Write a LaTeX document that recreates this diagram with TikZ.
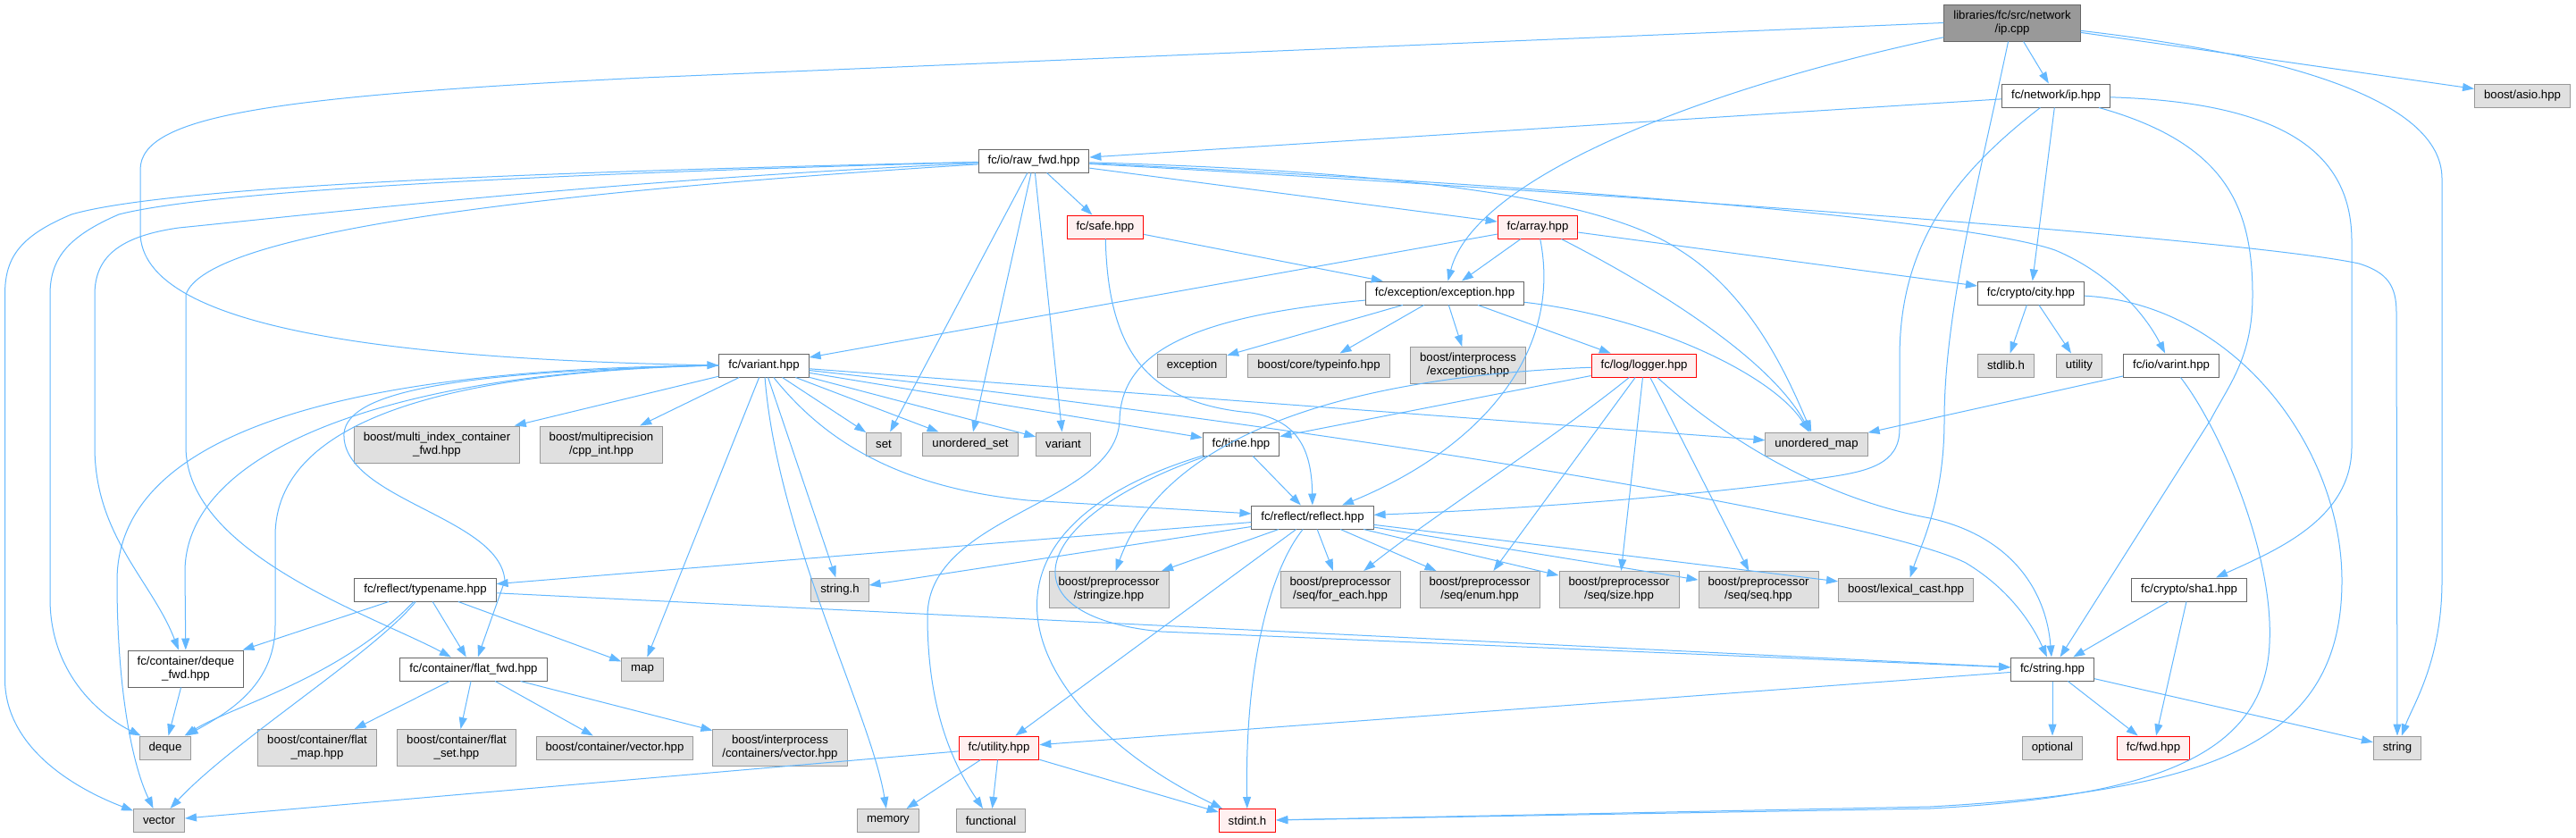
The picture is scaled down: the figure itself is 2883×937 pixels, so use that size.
\documentclass[tikz,border=0pt]{standalone}
\usepackage{fontspec}
\setmainfont{Liberation Sans}
\usepackage{xcolor}
\usepackage{tikz}
\usetikzlibrary{arrows.meta}

\definecolor{edgeblue}{HTML}{63B8FF}
\definecolor{boxgray}{HTML}{666666}
\definecolor{extdraw}{HTML}{999999}
\definecolor{extfill}{HTML}{E0E0E0}
\definecolor{truncfill}{HTML}{FFF0F0}
\definecolor{rootfill}{HTML}{999999}

\tikzset{
  hdr/.style={draw=boxgray, fill=white, line width=1pt, font=\fontsize{13.2}{15}\selectfont,
    inner xsep=10.5pt, inner ysep=0pt, minimum height=26pt, align=center},
  hdrtrunc/.style={hdr, draw=red, fill=truncfill},
  syshdr/.style={hdr, draw=extdraw, fill=extfill},
  srcroot/.style={hdr, fill=rootfill},
  tall/.style={minimum height=41pt},
  inc/.style={edgeblue, line width=1pt, -{Triangle[length=13pt,width=9pt]}},
}

\begin{document}
\begin{tikzpicture}[x=1pt, y=-1pt]
        \fill[white] (0,0) rectangle (2883,937);

        % Row 0 and 1
        \node[srcroot, tall] (root) at (2252,25.5) {libraries/fc/src/network\\/ip.cpp};
        \node[hdr] (netip) at (2301,107) {fc/network/ip.hpp};
        \node[syshdr] (asio) at (2823,107) {boost/asio.hpp};

        % Rows 2 to 4
        \node[hdr] (rawfwd) at (1157,180) {fc/io/raw\_fwd.hpp};
        \node[hdrtrunc] (safe) at (1237,254) {fc/safe.hpp};
        \node[hdrtrunc] (array) at (1721,254) {fc/array.hpp};
        \node[hdr] (exc) at (1617,328) {fc/exception/exception.hpp};
        \node[hdr] (city) at (2273,328) {fc/crypto/city.hpp};

        % Row 5
        \node[hdr] (variant) at (855,409) {fc/variant.hpp};
        \node[syshdr] (stdexc) at (1334,409) {exception};
        \node[syshdr] (typeinfo) at (1476,409) {boost/core/typeinfo.hpp};
        \node[syshdr, tall] (ipcexc) at (1643,409) {boost/interprocess\\/exceptions.hpp};
        \node[hdrtrunc] (logger) at (1840,409) {fc/log/logger.hpp};
        \node[syshdr] (stdlib) at (2245,409) {stdlib.h};
        \node[syshdr] (utilstd) at (2327,409) {utility};
        \node[hdr] (varint) at (2430,409) {fc/io/varint.hpp};

        % Row 6
        \node[syshdr, tall] (multiidx) at (489,497.5) {boost/multi\_index\_container\\\_fwd.hpp};
        \node[syshdr, tall] (multiprec) at (673,497.5) {boost/multiprecision\\/cpp\_int.hpp};
        \node[syshdr] (set) at (989,497) {set};
        \node[syshdr] (uset) at (1086,497) {unordered\_set};
        \node[syshdr] (stdvar) at (1190,497) {variant};
        \node[hdr] (time) at (1389,497) {fc/time.hpp};
        \node[syshdr] (umap) at (2033,497) {unordered\_map};

        % Row 7 and 8
        \node[hdr] (reflect) at (1469,579) {fc/reflect/reflect.hpp};
        \node[hdr] (typename) at (476,660) {fc/reflect/typename.hpp};
        \node[syshdr] (stringh) at (940,660) {string.h};
        \node[syshdr, tall] (stringize) at (1241,660) {boost/preprocessor\\/stringize.hpp};
        \node[syshdr, tall] (foreach) at (1500,660) {boost/preprocessor\\/seq/for\_each.hpp};
        \node[syshdr, tall] (penum) at (1656,660) {boost/preprocessor\\/seq/enum.hpp};
        \node[syshdr, tall] (psize) at (1812,660) {boost/preprocessor\\/seq/size.hpp};
        \node[syshdr, tall] (pseq) at (1968,660) {boost/preprocessor\\/seq/seq.hpp};
        \node[syshdr] (lexcast) at (2133,660) {boost/lexical\_cast.hpp};
        \node[hdr] (sha1) at (2450,660) {fc/crypto/sha1.hpp};

        % Row 9
        \node[hdr, tall] (dequefwd) at (208,748.5) {fc/container/deque\\\_fwd.hpp};
        \node[hdr] (flatfwd) at (530,749) {fc/container/flat\_fwd.hpp};
        \node[syshdr] (map) at (719,749) {map};
        \node[hdr] (fcstring) at (2297,749) {fc/string.hpp};

        % Row 10
        \node[syshdr] (deque) at (185,837) {deque};
        \node[syshdr, tall] (flatmap) at (355,837) {boost/container/flat\\\_map.hpp};
        \node[syshdr, tall] (flatset) at (511,837) {boost/container/flat\\\_set.hpp};
        \node[syshdr] (contvec) at (688,837) {boost/container/vector.hpp};
        \node[syshdr, tall] (ipcvec) at (873,837) {boost/interprocess\\/containers/vector.hpp};
        \node[hdrtrunc] (fcutil) at (1118,837) {fc/utility.hpp};
        \node[syshdr] (optional) at (2297,837) {optional};
        \node[hdrtrunc] (fwd) at (2410,837) {fc/fwd.hpp};
        \node[syshdr] (string) at (2683,837) {string};

        % Row 11
        \node[syshdr] (vector) at (178,918.5) {vector};
        \node[syshdr] (memory) at (994,918.5) {memory};
        \node[syshdr] (functional) at (1109,918.5) {functional};
        \node[hdrtrunc] (stdint) at (1396,918.5) {stdint.h};

        % ip.cpp
        \draw[inc] (root) -- (netip);
        \draw[inc] (root) -- (asio);
        \draw[inc] (root.west) -- (720,87) .. controls (300,108) and (157,130) .. (157,190) -- (157,260) .. controls (157,370) and (450,402) .. (variant.west);
        \draw[inc] (root) .. controls (1900,100) and (1650,200) .. (exc);
        \draw[inc] (root) .. controls (2550,60) and (2733,110) .. (2733,200) -- (2733,650) .. controls (2733,740) and (2700,790) .. (string);
        \draw[inc] (root) .. controls (2215,200) and (2176,350) .. (2176,470) .. controls (2176,560) and (2150,610) .. (lexcast);

        % fc/network/ip.hpp
        \draw[inc] (netip) -- (rawfwd);
        \draw[inc] (netip) -- (city);
        \draw[inc] (netip) .. controls (2180,200) and (2126,280) .. (2126,400) -- (2126,480) .. controls (2126,520) and (2090,528) .. (2040,535) .. controls (1900,555) and (1700,570) .. (reflect);
        \draw[inc] (netip) .. controls (2490,160) and (2521,230) .. (2521,330) .. controls (2521,400) and (2495,430) .. (2474,470) -- (fcstring);
        \draw[inc] (netip) .. controls (2570,115) and (2632,180) .. (2632,270) -- (2632,500) .. controls (2632,580) and (2550,615) .. (sha1);

        % fc/io/raw_fwd.hpp
        \draw[inc] (rawfwd) -- (safe);
        \draw[inc] (rawfwd) -- (array);
        \draw[inc] (rawfwd) -- (set);
        \draw[inc] (rawfwd) -- (uset);
        \draw[inc] (rawfwd) -- (stdvar);
        \draw[inc] (rawfwd) .. controls (1500,190) and (1780,212) .. (1880,280) .. controls (1960,330) and (2000,420) .. (umap);
        \draw[inc] (rawfwd) .. controls (1700,205) and (2200,245) .. (2300,280) .. controls (2360,305) and (2400,350) .. (varint);
        \draw[inc] (rawfwd) .. controls (1700,210) and (2500,265) .. (2640,295) .. controls (2672,305) and (2682,320) .. (2682,350) -- (string);
        \draw[inc] (rawfwd) .. controls (700,190) and (200,205) .. (80,240) .. controls (20,265) and (5.5,290) .. (5.5,330) -- (5.5,760) .. controls (5.5,840) and (90,885) .. (vector);
        \draw[inc] (rawfwd) .. controls (700,192) and (250,210) .. (133,240) .. controls (75,265) and (56,290) .. (56,330) -- (56,670) .. controls (56,760) and (120,805) .. (deque);
        \draw[inc] (rawfwd) .. controls (700,200) and (350,240) .. (200,255) .. controls (130,265) and (106,290) .. (106,330) -- (106,500) .. controls (106,600) and (170,650) .. (dequefwd);
        \draw[inc] (rawfwd) .. controls (600,215) and (230,260) .. (208,330) -- (208,500) .. controls (208,620) and (420,690) .. (flatfwd);

        % fc/safe.hpp
        \draw[inc] (safe) -- (exc);
        \draw[inc] (safe) .. controls (1240,400) and (1290,452) .. (1400,462) .. controls (1450,470) and (1468,500) .. (reflect);

        % fc/array.hpp
        \draw[inc] (array) -- (exc);
        \draw[inc] (array) -- (variant);
        \draw[inc] (array) -- (city);
        \draw[inc] (array) .. controls (1750,400) and (1650,505) .. (reflect);
        \draw[inc] (array) .. controls (1850,320) and (1980,400) .. (umap);

        % fc/exception/exception.hpp
        \draw[inc] (exc) -- (stdexc);
        \draw[inc] (exc) -- (typeinfo);
        \draw[inc] (exc) -- (ipcexc);
        \draw[inc] (exc) -- (logger);
        \draw[inc] (exc) .. controls (1850,355) and (1985,420) .. (umap);
        \draw[inc] (exc) .. controls (1320,355) and (1255,400) .. (1253,470) .. controls (1250,565) and (1038,575) .. (1038,690) .. controls (1038,800) and (1070,860) .. (functional);

        % fc/crypto/city.hpp and fc/io/varint.hpp
        \draw[inc] (city) -- (stdlib);
        \draw[inc] (city) -- (utilstd);
        \draw[inc] (city) .. controls (2500,340) and (2621,500) .. (2621,650) .. controls (2621,830) and (2480,885) .. (2160,903) -- (stdint);
        \draw[inc] (varint) -- (umap);
        \draw[inc] (varint) .. controls (2485,480) and (2545,620) .. (2540,720) .. controls (2535,850) and (2400,892) .. (2160,905) -- (stdint);

        % fc/log/logger.hpp
        \draw[inc] (logger) -- (time);
        \draw[inc] (logger) .. controls (1550,420) and (1310,470) .. (stringize);
        \draw[inc] (logger) .. controls (1740,490) and (1600,580) .. (foreach);
        \draw[inc] (logger) -- (penum);
        \draw[inc] (logger) -- (psize);
        \draw[inc] (logger) -- (pseq);
        \draw[inc] (logger) .. controls (1940,500) and (2050,560) .. (2160,580) .. controls (2250,600) and (2290,660) .. (fcstring);

        % fc/variant.hpp
        \draw[inc] (variant) -- (multiidx);
        \draw[inc] (variant) -- (multiprec);
        \draw[inc] (variant) -- (map);
        \draw[inc] (variant) -- (stringh);
        \draw[inc] (variant) -- (set);
        \draw[inc] (variant) -- (uset);
        \draw[inc] (variant) -- (stdvar);
        \draw[inc] (variant) -- (time);
        \draw[inc] (variant) -- (umap);
        \draw[inc] (variant) .. controls (870,600) and (975,800) .. (memory);
        \draw[inc] (variant) .. controls (920,490) and (1000,545) .. (1150,560) -- (reflect);
        \draw[inc] (variant) .. controls (1500,480) and (2100,580) .. (2200,630) .. controls (2250,660) and (2275,700) .. (fcstring);
        \draw[inc] (variant.west) .. controls (400,412) and (131,480) .. (131,650) .. controls (131,780) and (150,860) .. (vector);
        \draw[inc] (variant.west) .. controls (450,414) and (207,500) .. (207,640) -- (dequefwd);
        \draw[inc] (variant.west) .. controls (500,416) and (308,470) .. (308,600) -- (308,700) .. controls (308,770) and (250,800) .. (deque);
        \draw[inc] (variant.west) .. controls (500,416) and (381,440) .. (385,490) .. controls (390,560) and (560,580) .. (565,650) -- (flatfwd);

        % fc/time.hpp
        \draw[inc] (time) -- (reflect);
        \draw[inc] (time) .. controls (1050,600) and (1150,800) .. (stdint);
        \draw[inc] (time) .. controls (1150,580) and (1120,690) .. (1300,707) -- (fcstring);

        % fc/reflect/reflect.hpp
        \draw[inc] (reflect) -- (typename);
        \draw[inc] (reflect) -- (stringh);
        \draw[inc] (reflect) -- (stringize);
        \draw[inc] (reflect) -- (foreach);
        \draw[inc] (reflect) -- (penum);
        \draw[inc] (reflect) -- (psize);
        \draw[inc] (reflect) -- (pseq);
        \draw[inc] (reflect) -- (lexcast);
        \draw[inc] (reflect) -- (fcutil);
        \draw[inc] (reflect) .. controls (1420,640) and (1393,750) .. (stdint);

        % fc/reflect/typename.hpp
        \draw[inc] (typename) -- (dequefwd);
        \draw[inc] (typename) -- (flatfwd);
        \draw[inc] (typename) -- (map);
        \draw[inc] (typename) -- (fcstring);
        \draw[inc] (typename) .. controls (380,760) and (260,790) .. (deque);
        \draw[inc] (typename) .. controls (420,730) and (260,830) .. (vector);

        % containers
        \draw[inc] (dequefwd) -- (deque);
        \draw[inc] (flatfwd) -- (flatmap);
        \draw[inc] (flatfwd) -- (flatset);
        \draw[inc] (flatfwd) -- (contvec);
        \draw[inc] (flatfwd) -- (ipcvec);

        % fc/crypto/sha1.hpp and fc/string.hpp
        \draw[inc] (sha1) -- (fcstring);
        \draw[inc] (sha1) -- (fwd);
        \draw[inc] (fcstring) -- (optional);
        \draw[inc] (fcstring) -- (fwd);
        \draw[inc] (fcstring) -- (string);
        \draw[inc] (fcstring) -- (fcutil);

        % fc/utility.hpp
        \draw[inc] (fcutil) -- (vector);
        \draw[inc] (fcutil) -- (memory);
        \draw[inc] (fcutil) -- (functional);
        \draw[inc] (fcutil) -- (stdint);
    \end{tikzpicture}
\end{document}
